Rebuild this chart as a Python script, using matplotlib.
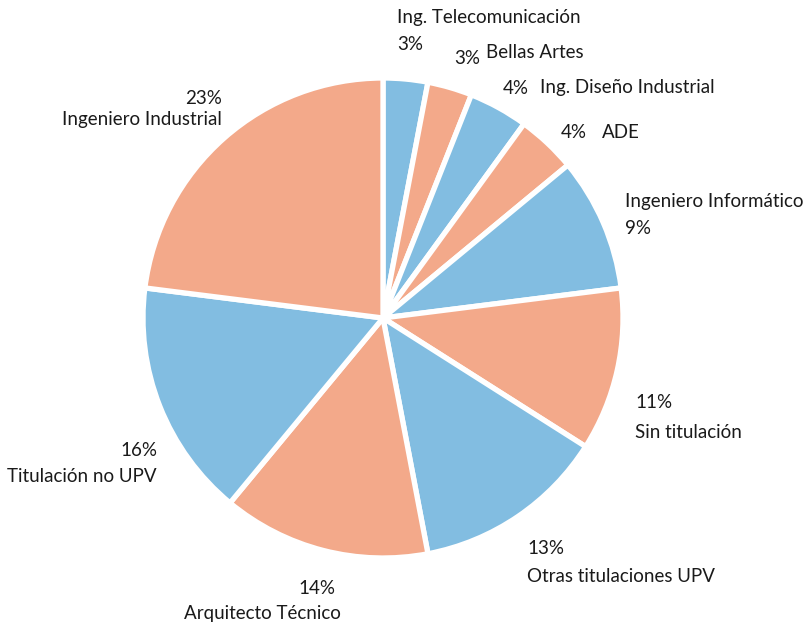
import matplotlib
matplotlib.use("Agg")
import matplotlib.pyplot as plt

categories = ["Ing. Telecomunicación", "Bellas Artes", "Ing. Diseño Industrial", "ADE",
              "Ingeniero Informático", "Sin titulación", "Otras titulaciones UPV",
              "Arquitecto Técnico", "Titulación no UPV", "Ingeniero Industrial"]
values = [3, 3, 4, 4, 9, 11, 13, 14, 16, 23]

blue = "#82BDE1"
salmon = "#F3A98A"
colors = [blue, salmon] * 5

plt.rcParams['font.family'] = ['Lato', 'DejaVu Sans']

W, H = 810, 625
fig = plt.figure(figsize=(W / 100, H / 100), dpi=100)
ax = fig.add_axes([0, 0, 1, 1])
cx, cy, R = 383, H - 318, 240
ax.pie(values, colors=colors, startangle=90, counterclock=False, radius=R,
       center=(cx, cy), wedgeprops=dict(edgecolor="white", linewidth=3.8))
ax.set_xlim(0, W)
ax.set_ylim(0, H)
ax.set_aspect('equal')
ax.axis('off')

fs = 13.5
def t(x, y, s, ha='left'):
    ax.text(x, H - y, s, ha=ha, va='center', fontsize=fs, color='#1a1a1a')

pct = [f"{v}%" for v in values]
# Ing. Telecomunicación
t(397, 17, categories[0]); t(397, 45, pct[0])
# Bellas Artes
t(454, 58, pct[1]); t(486, 53, categories[1])
# Ing. Diseño Industrial
t(503, 88, pct[2]); t(540, 88, categories[2])
# ADE
t(561, 133, pct[3]); t(602, 133, categories[3])
# Ingeniero Informático
t(625, 201, categories[4]); t(625, 229, pct[4])
# Sin titulación
t(635, 402, pct[5]); t(635, 432, categories[5])
# Otras titulaciones UPV
t(527, 549, pct[6]); t(527, 577, categories[6])
# Arquitecto Técnico
t(335, 588, pct[7], ha='right'); t(184, 614, categories[7])
# Titulación no UPV
t(157, 451, pct[8], ha='right'); t(157, 477, categories[8], ha='right')
# Ingeniero Industrial
t(222, 99, pct[9], ha='right'); t(222, 119, categories[9], ha='right')

fig.savefig("out.png", dpi=100, facecolor="white")
